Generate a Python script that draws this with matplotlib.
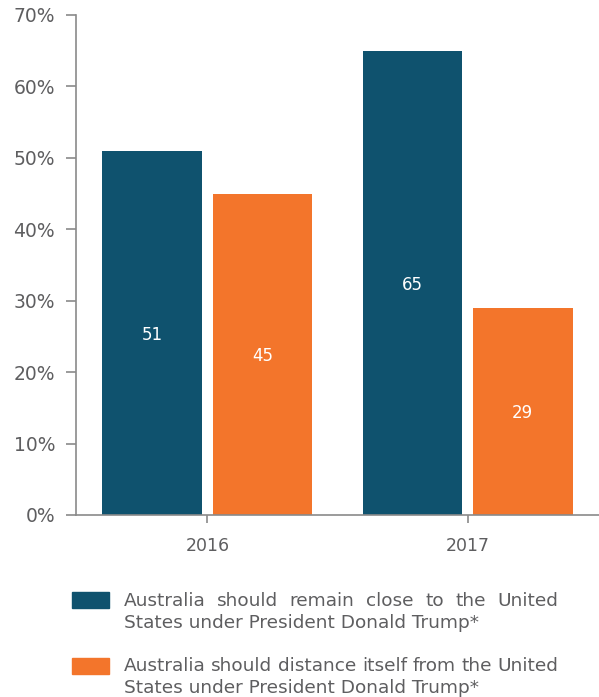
import matplotlib
matplotlib.use("Agg")
import matplotlib.pyplot as plt
import matplotlib.patches as patches
import numpy as np

# data
years = ["2016", "2017"]
remain_close = [51, 65]
distance_itself = [45, 29]
series_labels = [
    ["Australia should remain close to the United",
     "States under President Donald Trump*"],
    ["Australia should distance itself from the United",
     "States under President Donald Trump*"],
]
colors = ["#0f526e", "#f3752b"]
text_color = "#5e5e60"
axis_color = "#8a8a8a"

plt.rcParams["font.family"] = ["DejaVu Sans"]

W, H = 599, 697
fig = plt.figure(figsize=(W / 100, H / 100), dpi=100)
ax = fig.add_axes([76 / W, (H - 515) / H, 1 - 76 / W, 500 / H])

x = np.arange(len(years))
bw = 0.383
off = 0.212
b1 = ax.bar(x - off, remain_close, bw, color=colors[0])
b2 = ax.bar(x + off, distance_itself, bw, color=colors[1])

for bars, vals in ((b1, remain_close), (b2, distance_itself)):
    for rect, v in zip(bars, vals):
        ax.text(rect.get_x() + rect.get_width() / 2, v / 2, str(v),
                ha="center", va="center_baseline", color="white", fontsize=12)

ax.set_xlim(-0.505, 1.505)
ax.set_ylim(0, 70)
ax.set_yticks(range(0, 71, 10))
ax.set_yticklabels([f"{t}%" for t in range(0, 71, 10)])
ax.set_xticks(x)
ax.set_xticklabels(years)

for s in ("top", "right"):
    ax.spines[s].set_visible(False)
for s in ("left", "bottom"):
    ax.spines[s].set_color(axis_color)
    ax.spines[s].set_linewidth(1.2)
ax.tick_params(axis="y", colors=axis_color, labelcolor=text_color,
               labelsize=13.5, length=7, width=1.2, pad=8)
ax.tick_params(axis="x", colors=axis_color, labelcolor=text_color,
               labelsize=12.5, length=6, width=1.2, pad=10)

# legend drawn by hand, with justified first lines
renderer = fig.canvas.get_renderer()
text_left, text_right = 124, 558
patch_tops = [592, 658]
line_ys = [[601, 623], [666, 688]]
fs = 13.3


def fy(py):
    return 1 - py / H


for i, lines in enumerate(series_labels):
    fig.patches.append(patches.Rectangle(
        (72 / W, fy(patch_tops[i] + 16)), 37 / W, 16 / H,
        transform=fig.transFigure, color=colors[i]))
    for j, line in enumerate(lines):
        y = fy(line_ys[i][j])
        if j < len(lines) - 1:
            words = line.split()
            texts = [fig.text(0, y, w_, fontsize=fs, color=text_color,
                              va="center", ha="left") for w_ in words]
            widths = [t.get_window_extent(renderer).width for t in texts]
            gap = (text_right - text_left - sum(widths)) / (len(words) - 1)
            px = text_left
            for t, w_ in zip(texts, widths):
                t.set_x(px / W)
                px += w_ + gap
        else:
            fig.text(text_left / W, y, line, fontsize=fs, color=text_color,
                     va="center", ha="left")

fig.savefig("out.png", dpi=100)
